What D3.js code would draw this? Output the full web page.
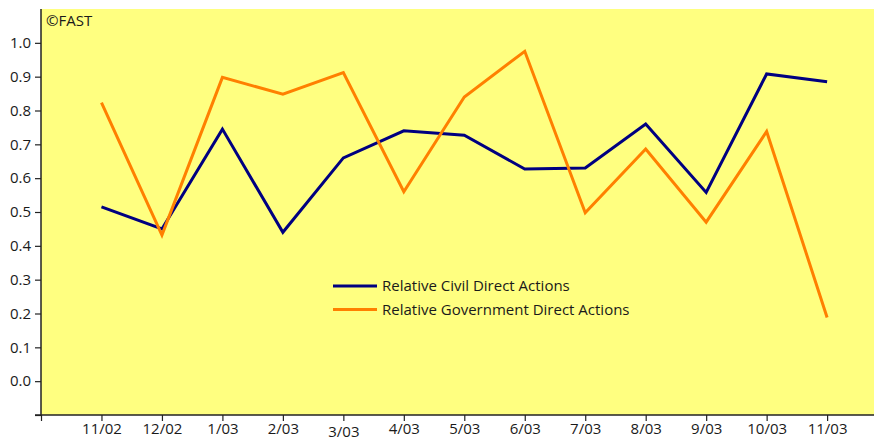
<!DOCTYPE html>
<html>
<head>
<meta charset="utf-8">
<script src="https://cdn.jsdelivr.net/npm/d3@7"></script>
<style>
  body { margin: 0; background: #fff; }
  svg text { font-family: "Open Sans", "Noto Sans", sans-serif; fill: #1a1a1a; }
</style>
</head>
<body>
<div id="chart"></div>
<script>
// data
const months = ["11/02", "12/02", "1/03", "2/03", "3/03", "4/03", "5/03", "6/03", "7/03", "8/03", "9/03", "10/03", "11/03"];
const civil = [0.515, 0.45, 0.745, 0.44, 0.66, 0.74, 0.727, 0.627, 0.63, 0.76, 0.558, 0.908, 0.885];
const government = [0.823, 0.432, 0.898, 0.848, 0.912, 0.56, 0.84, 0.975, 0.498, 0.686, 0.47, 0.738, 0.188];
const yTicks = [-0.1, 0, 0.1, 0.2, 0.3, 0.4, 0.5, 0.6, 0.7, 0.8, 0.9, 1.0];
const seriesNames = ["Relative Civil Direct Actions", "Relative Government Direct Actions"];

const width = 874, height = 441;
const margin = { top: 9, right: 0, bottom: 26, left: 41 };
const colors = ["#000080", "#ff8000"];

const svg = d3.select("#chart").append("svg")
  .attr("width", width)
  .attr("height", height);

// scales
const x = d3.scaleLinear().domain([-1, 13]).range([margin.left, margin.left + 14 * 60.47]);
const y = d3.scaleLinear().domain([-0.1, 1.1]).range([height - margin.bottom, margin.top]);

// plot background
svg.append("rect")
  .attr("x", margin.left)
  .attr("y", margin.top)
  .attr("width", width - margin.left)
  .attr("height", height - margin.bottom - margin.top)
  .attr("fill", "#ffff80");

// y axis
const yAxis = svg.append("g")
  .attr("transform", `translate(${margin.left},0)`)
  .call(d3.axisLeft(y).tickValues(yTicks).tickSize(6).tickPadding(4)
    .tickFormat(d => d < 0 ? "" : d3.format(".1f")(d)));
yAxis.select(".domain").attr("d", `M0,${y(1.1)}V${y(-0.1)}`).attr("stroke", "#222").attr("stroke-width", 1.5);
yAxis.selectAll(".tick line").attr("stroke", "#222").attr("stroke-width", 1.2);
yAxis.selectAll("text").style("font-size", "15px");

// x axis
const xAxis = svg.append("g")
  .attr("transform", `translate(0,${y(-0.1)})`)
  .call(d3.axisBottom(x).tickValues(d3.range(-1, 13)).tickSize(6).tickPadding(4)
    .tickFormat(d => d < 0 ? "" : months[d]));
xAxis.select(".domain").attr("d", `M${margin.left - 6},0H${width}`).attr("stroke", "#222").attr("stroke-width", 1.5);
xAxis.selectAll(".tick line").attr("stroke", "#222").attr("stroke-width", 1.2);
xAxis.selectAll("text").style("font-size", "15px")
  .attr("dy", d => d === 4 ? "0.82em" : "0.62em");

// lines
const line = d3.line()
  .x((d, i) => x(i))
  .y(d => y(d));

[civil, government].forEach((s, k) => {
  svg.append("path")
    .datum(s)
    .attr("d", line)
    .attr("fill", "none")
    .attr("stroke", colors[k])
    .attr("stroke-width", 3)
    .attr("stroke-linejoin", "miter");
});

// legend
const legend = svg.append("g").attr("transform", "translate(333,286)");
seriesNames.forEach((name, k) => {
  const row = legend.append("g").attr("transform", `translate(0,${k * 23.5})`);
  row.append("line")
    .attr("x1", 0).attr("x2", 44)
    .attr("stroke", colors[k]).attr("stroke-width", 3);
  row.append("text")
    .attr("x", 49).attr("y", 0).attr("dy", "0.35em")
    .style("font-size", "15px")
    .text(name);
});

// copyright
svg.append("text")
  .attr("x", 46).attr("y", 26)
  .style("font-size", "15px")
  .text("©FAST");
</script>
</body>
</html>
